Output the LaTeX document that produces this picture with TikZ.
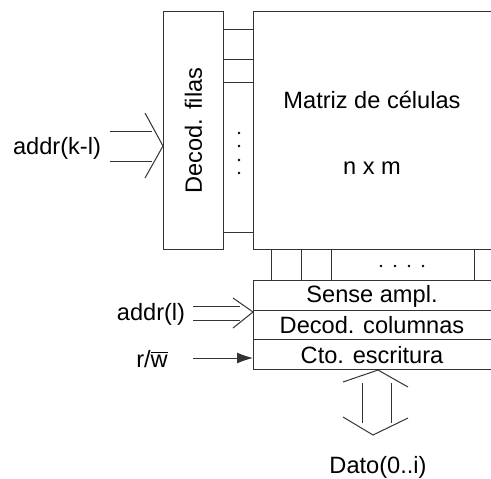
\documentclass[tikz,border=0pt]{standalone}
\usepackage{fontspec}
\setmainfont{Liberation Sans}
\usetikzlibrary{arrows.meta}
\begin{document}
\begin{tikzpicture}[x=0.5pt,y=-0.5pt,line width=0.5pt,
  box/.style={draw=black!80,rectangle,inner sep=0pt,anchor=north west},
  lbl/.style={font=\fontsize{11.8}{14}\selectfont,inner sep=0pt,text=black},
  wire/.style={draw=black!80},
  pt/.style={circle,fill=black,inner sep=0pt,minimum size=1.4pt}]
\useasboundingbox (0,0) rectangle (491,478);

% row decoder and cell array
\node[box,minimum width=30pt,minimum height=119pt] (dec) at (163,11) {};
\node[lbl,rotate=90] (dectxt) at (dec.center) {Decod. filas};
\node[box,minimum width=140pt,minimum height=119pt] (mat) at (253,11) {};
\node[lbl] (mattxt) at (372,100) {Matriz de células};
\node[lbl] (matdim) at (372,168) {n x m};

% word lines between decoder and array
\foreach \yy in {29,59,82,232}
  \draw[wire] (dec.east |- 0,\yy) -- (mat.west |- 0,\yy);
\foreach \yy [count=\k] in {133,146,160,173}
  \node[pt] (vd\k) at (239,\yy) {};

% column block
\node[box,minimum width=140pt,minimum height=15pt] (sense) at (253,280) {};
\node[lbl] (sensetxt) at (372,296) {Sense ampl.};
\node[box,minimum width=140pt,minimum height=14.5pt] (coldec) at (253,310) {};
\node[lbl] (coldectxt) at (372,325) {Decod. columnas};
\node[box,minimum width=140pt,minimum height=15pt] (wr) at (253,339) {};
\node[lbl] (wrtxt) at (372,355) {Cto. escritura};

% bit lines between array and sense amplifiers
\foreach \xx in {271,301,331,474}
  \draw[wire] (mat.south -| \xx,0) -- (sense.north -| \xx,0);
\foreach \xx [count=\k] in {381,395,409,423}
  \node[pt] (hd\k) at (\xx,266) {};

% row address bus
\node[lbl] (akl) at (57,148) {addr(k-l)};
\coordinate (akltip) at (dec.west |- 0,146);
\draw[wire] (110,131) -- (152,131);
\draw[wire] (110,161) -- (152,161);
\draw[wire] (145,113) -- (akltip) -- (145,178);

% column address bus
\node[lbl] (al) at (151,314) {addr(l)};
\coordinate (altip) at (sense.west |- 0,312);
\draw[wire] (193,306) -- (240,306);
\draw[wire] (193,320) -- (240,320);
\draw[wire] (233,298) -- (altip) -- (233,328);

% read / write control
\node[lbl] (rw) at (152,359) {r/$\overline{\mbox{w}}$};
\coordinate (rwin) at (193,358);
\draw[wire,-{Latex[length=8pt,width=5.5pt]}] (rwin) -- (wr.west |- 0,358);

% bidirectional data bus
\coordinate (dtop) at (wr.south -| 378,0);
\draw[wire] (343,382) -- (dtop) -- (408,387);
\draw[wire] (362,383) -- (362,423);
\draw[wire] (391,383) -- (391,423);
\draw[wire] (343,417) -- (373,435) -- (408,418);
\node[lbl] (dato) at (378,467) {Dato(0..i)};
\end{tikzpicture}
\end{document}
